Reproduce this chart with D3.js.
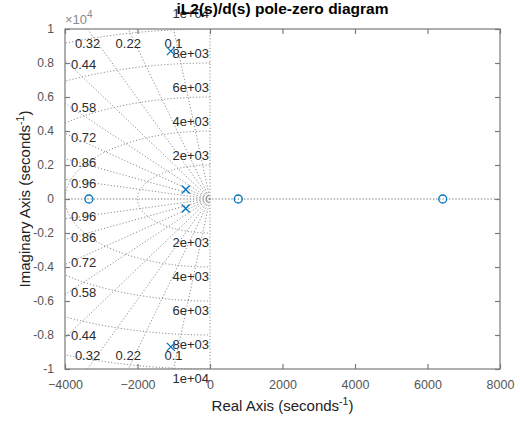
<!DOCTYPE html>
<html>
<head>
<meta charset="utf-8">
<script src="https://cdn.jsdelivr.net/npm/d3@7"></script>
<style>
  body { margin: 0; background: #fff; }
  svg { display: block; font-family: "Liberation Sans", Arial, sans-serif; }
</style>
</head>
<body>
<div id="chart"></div>
<script>
// Pole / zero locations (seconds^-1)
const poles = [
    { re: -1080, im: 8700 }, { re: -1080, im: -8700 },
    { re: -670, im: 560 }, { re: -670, im: -560 }
];
const zeros = [
    { re: -3340, im: 0 }, { re: 780, im: 0 }, { re: 6420, im: 0 }
];

// Grid values
const dampingValues = [0.1, 0.22, 0.32, 0.44, 0.58, 0.72, 0.86, 0.96];
const freqValues = [2000, 4000, 6000, 8000, 10000];
const freqLabels = ["2e+03", "4e+03", "6e+03", "8e+03", "1e+04"];

// Axis ticks
const xTicks = [-4000, -2000, 0, 2000, 4000, 6000, 8000];
const yTicks = [-1, -0.8, -0.6, -0.4, -0.2, 0, 0.2, 0.4, 0.6, 0.8, 1]; // x 10^4
const yTickLabels = ["-1", "-0.8", "-0.6", "-0.4", "-0.2", "0", "0.2", "0.4", "0.6", "0.8", "1"];

const width = 520, height = 421;
const margin = { top: 29, right: 20, bottom: 52, left: 65 };
const boxColor = "#7a7a7a";
const gridColor = "#8e8e8e";
const blue = "#0072BD";

const svg = d3.select("#chart").append("svg")
    .attr("width", width)
    .attr("height", height);

const x = d3.scaleLinear().domain([-4000, 8000]).range([margin.left, width - margin.right]);
const y = d3.scaleLinear().domain([-10000, 10000]).range([height - margin.bottom, margin.top]);

svg.append("clipPath").attr("id", "plotclip")
    .append("rect")
    .attr("x", x(-4000)).attr("y", y(10000))
    .attr("width", x(8000) - x(-4000)).attr("height", y(-10000) - y(10000));

const grid = svg.append("g").attr("clip-path", "url(#plotclip)")
    .attr("fill", "none")
    .attr("stroke", gridColor)
    .attr("stroke-width", 1)
    .attr("stroke-dasharray", "1.2,2");

// real and imaginary axis lines
grid.append("line")
    .attr("x1", x(-4000)).attr("x2", x(8000))
    .attr("y1", y(0)).attr("y2", y(0))
    .attr("stroke", "#666");
grid.append("line")
    .attr("x1", x(0)).attr("x2", x(0))
    .attr("y1", y(-10000)).attr("y2", y(10000));

// damping rays, starting at the origin
dampingValues.forEach(z => {
    [1, -1].forEach(s => {
        const r = 40000;
        grid.append("line")
            .attr("x1", x(0)).attr("y1", y(0))
            .attr("x2", x(-z * r)).attr("y2", y(s * Math.sqrt(1 - z * z) * r));
    });
});

// natural frequency arcs
const arc = d3.line().x(d => x(d[0])).y(d => y(d[1]));
freqValues.forEach(wn => {
    const pts = d3.range(0, 181, 1).map(a => {
        const t = (90 + a) * Math.PI / 180;
        return [wn * Math.cos(t), wn * Math.sin(t)];
    });
    grid.append("path").attr("d", arc(pts));
});

// damping labels
const labelG = svg.append("g")
    .attr("font-size", "13px")
    .attr("fill", "#2b2b2b");

dampingValues.forEach(z => {
    const sn = Math.sqrt(1 - z * z);
    const tLeft = 4000 / z, tTop = 10000 / sn;
    [1, -1].forEach(s => {
        if (tTop < tLeft) {
            labelG.append("text")
                .attr("x", x(-z * tTop))
                .attr("y", y(s * 10000) + s * 14)
                .attr("text-anchor", "middle")
                .attr("dominant-baseline", "central")
                .text(String(z));
        } else {
            labelG.append("text")
                .attr("x", x(-4000) + 6)
                .attr("y", y(s * sn * tLeft) + (s > 0 ? 4 : -2))
                .attr("dominant-baseline", "central")
                .text(String(z));
        }
    });
});

// frequency labels
freqValues.forEach((wn, i) => {
    const last = i === freqValues.length - 1;
    [1, -1].forEach(s => {
        labelG.append("text")
            .attr("x", x(0) - 1)
            .attr("y", y(s * wn) - s * (s > 0 && last ? 16 : 9.5))
            .attr("text-anchor", "end")
            .attr("dominant-baseline", "central")
            .text(freqLabels[i]);
    });
});

// markers
const marks = svg.append("g")
    .attr("fill", "none")
    .attr("stroke", blue)
    .attr("stroke-width", 1.3);

marks.selectAll("circle")
    .data(zeros)
    .join("circle")
    .attr("cx", d => x(d.re))
    .attr("cy", d => y(d.im))
    .attr("r", 4);

const xs = 4;
marks.selectAll("path.pole")
    .data(poles)
    .join("path")
    .attr("class", "pole")
    .attr("d", d => {
        const px = x(d.re), py = y(d.im);
        return `M${px - xs},${py - xs}L${px + xs},${py + xs}M${px - xs},${py + xs}L${px + xs},${py - xs}`;
    });

// box
svg.append("rect")
    .attr("x", x(-4000)).attr("y", y(10000))
    .attr("width", x(8000) - x(-4000)).attr("height", y(-10000) - y(10000))
    .attr("fill", "none")
    .attr("stroke", boxColor)
    .attr("stroke-width", 1.2);

// axes
const styleAxis = g => {
    g.select(".domain").remove();
    g.selectAll(".tick line").attr("stroke", boxColor).attr("stroke-width", 1.2);
    g.selectAll(".tick text").attr("fill", "#555").attr("font-family", "Liberation Sans, Arial, sans-serif");
};

svg.append("g")
    .attr("transform", `translate(0,${y(-10000)})`)
    .call(d3.axisBottom(x).tickValues(xTicks).tickSizeInner(-5).tickSizeOuter(0).tickPadding(11).tickFormat(d3.format("d")))
    .call(styleAxis)
    .call(g => g.selectAll(".tick text").attr("font-size", "12.5px"));

svg.append("g")
    .attr("transform", `translate(0,${y(10000)})`)
    .call(d3.axisTop(x).tickValues(xTicks).tickSizeInner(-5).tickSizeOuter(0).tickFormat(""))
    .call(styleAxis);

svg.append("g")
    .attr("transform", `translate(${x(-4000)},0)`)
    .call(d3.axisLeft(y).tickValues(yTicks.map(v => v * 10000)).tickSizeInner(-5).tickSizeOuter(0).tickPadding(11)
        .tickFormat((d, i) => yTickLabels[i]))
    .call(styleAxis)
    .call(g => g.selectAll(".tick text").attr("font-size", "12px"));

svg.append("g")
    .attr("transform", `translate(${x(8000)},0)`)
    .call(d3.axisRight(y).tickValues(yTicks.map(v => v * 10000)).tickSizeInner(-5).tickSizeOuter(0).tickFormat(""))
    .call(styleAxis);

// exponent note
const expo = svg.append("text")
    .attr("x", x(-4000))
    .attr("y", 24)
    .attr("font-size", "13px")
    .attr("fill", "#8a8a8a");
expo.append("tspan").text("×10");
expo.append("tspan").attr("dy", -6).attr("font-size", "10px").text("4");

// axis labels
const xl = svg.append("text")
    .attr("x", (x(-4000) + x(8000)) / 2)
    .attr("y", 411)
    .attr("text-anchor", "middle")
    .attr("font-size", "15px")
    .attr("fill", "#222");
xl.append("tspan").text("Real Axis (seconds");
xl.append("tspan").attr("dy", -6).attr("font-size", "10.5px").text("-1");
xl.append("tspan").attr("dy", 6).text(")");

const yl = svg.append("text")
    .attr("transform", `translate(30,${y(0)}) rotate(-90)`)
    .attr("text-anchor", "middle")
    .attr("font-size", "15px")
    .attr("fill", "#222");
yl.append("tspan").text("Imaginary Axis (seconds");
yl.append("tspan").attr("dy", -6).attr("font-size", "10.5px").text("-1");
yl.append("tspan").attr("dy", 6).text(")");

// title
svg.append("text")
    .attr("x", (x(-4000) + x(8000)) / 2)
    .attr("y", 14)
    .attr("text-anchor", "middle")
    .attr("font-size", "15.5px")
    .attr("font-weight", "bold")
    .attr("fill", "#000")
    .text("iL2(s)/d(s) pole-zero diagram");
</script>
</body>
</html>
